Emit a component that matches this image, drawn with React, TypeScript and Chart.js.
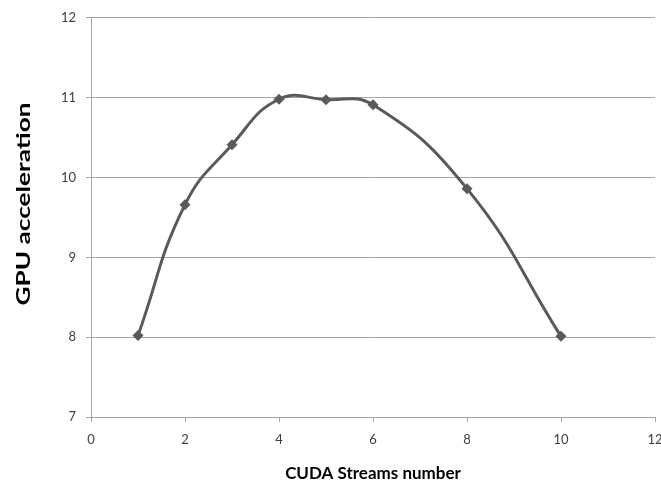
import React, { useEffect, useRef } from "react";
import { Chart, registerables } from "chart.js";

Chart.register(...registerables);

const streams = [1, 2, 3, 4, 5, 6, 8, 10];
const acceleration = [8.02, 9.66, 10.41, 10.98, 10.975, 10.91, 9.86, 8.01];
const xTitle = "CUDA Streams number";
const yTitle = "GPU acceleration";

const FONT = "Lato, 'Open Sans', sans-serif";
const GRID = "#a6a6a6";
const TEXT = "#404040";

// Draws the vertical axis title, stretched along its length like the original layout.
const yTitlePlugin = {
  id: "yTitle",
  afterDraw(chart: any) {
    const { ctx } = chart;
    ctx.save();
    ctx.font = `bold 18px ${FONT}`;
    ctx.fillStyle = "#000";
    ctx.textAlign = "center";
    ctx.textBaseline = "middle";
    const w = ctx.measureText(yTitle).width;
    ctx.translate(24, 204);
    ctx.rotate(-Math.PI / 2);
    ctx.scale(203 / w, 1);
    ctx.fillText(yTitle, 0, 0);
    ctx.restore();
  },
};

export default function App() {
  const ref = useRef<HTMLCanvasElement | null>(null);

  useEffect(() => {
    document.body.style.margin = "0";
    const ctx = ref.current!.getContext("2d")!;
    const chart = new Chart(ctx, {
      type: "line",
      data: {
        datasets: [
          {
            data: streams.map((x, i) => ({ x, y: acceleration[i] })),
            borderColor: "#5a5a5a",
            backgroundColor: "#5a5a5a",
            borderWidth: 3,
            tension: 0.45,
            pointStyle: "rectRot",
            pointRadius: 5.5,
            pointBorderWidth: 0,
          },
        ],
      },
      options: {
        animation: false,
        responsive: false,
        layout: { padding: { top: 17, right: 6, left: 0, bottom: 0 } },
        plugins: { legend: { display: false }, tooltip: { enabled: false } },
        scales: {
          x: {
            type: "linear",
            min: 0,
            max: 12,
            ticks: { stepSize: 2, color: TEXT, padding: 10, font: { family: FONT, size: 13 } },
            grid: { drawOnChartArea: false, color: GRID, tickLength: 5 },
            border: { color: GRID, width: 1 },
            title: {
              display: true,
              text: xTitle,
              color: "#000",
              font: { family: FONT, size: 17, weight: "bold" },
              padding: { top: 8, bottom: 3 },
            },
            afterFit: (s: any) => {
              s.height = 70;
              s.paddingLeft = 0;
              s.paddingRight = 0;
            },
          },
          y: {
            min: 7,
            max: 12,
            ticks: { stepSize: 1, color: TEXT, padding: 10, font: { family: FONT, size: 13 } },
            grid: { color: GRID, tickLength: 5 },
            border: { color: GRID, width: 1 },
            afterFit: (s: any) => {
              s.width = 91;
            },
          },
        },
      },
      plugins: [yTitlePlugin],
    });
    return () => chart.destroy();
  }, []);

  return (
    <div style={{ width: 661, height: 487, background: "#fff" }}>
      <canvas ref={ref} width={661} height={487} />
    </div>
  );
}
